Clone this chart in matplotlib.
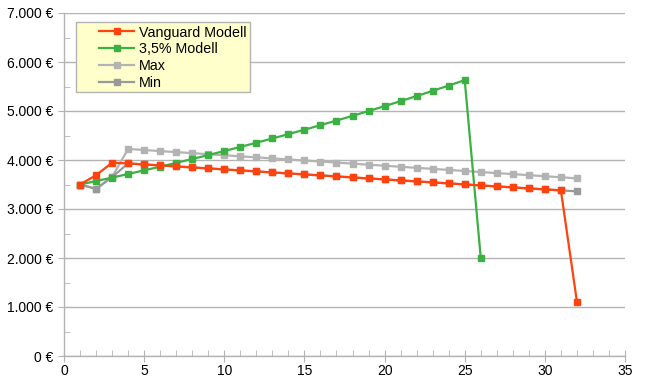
import matplotlib
matplotlib.use("Agg")
import matplotlib.pyplot as plt
from matplotlib.ticker import MultipleLocator, FuncFormatter
from matplotlib.patches import Rectangle

plt.rcParams['font.family'] = ['Liberation Sans', 'DejaVu Sans']

years = list(range(1, 33))
vanguard = [3500, 3690, 3945, 3930, 3910, 3889, 3869, 3848, 3828, 3808, 3787, 3767,
            3746, 3726, 3706, 3685, 3665, 3644, 3624, 3604, 3583, 3563, 3543, 3522,
            3502, 3481, 3461, 3441, 3420, 3400, 3380, 1110]
years_35 = list(range(1, 27))
modell_35 = [3500, 3570, 3641, 3714, 3789, 3864, 3942, 4020, 4101, 4183, 4267, 4352,
             4439, 4528, 4618, 4711, 4805, 4901, 4999, 5099, 5201, 5305, 5411, 5519,
             5630, 2005]
max_vals = [3500, 3410, 3655, 4225, 4204, 4182, 4161, 4140, 4118, 4097, 4075, 4054,
            4033, 4011, 3990, 3968, 3947, 3926, 3904, 3883, 3861, 3840, 3819, 3797,
            3776, 3754, 3733, 3712, 3690, 3669, 3647, 3626]
min_vals = [3500, 3410, 3650, 3930, 3910, 3889, 3869, 3848, 3828, 3808, 3787, 3767,
            3746, 3726, 3706, 3685, 3665, 3644, 3624, 3604, 3583, 3563, 3543, 3522,
            3502, 3481, 3461, 3441, 3420, 3400, 3380, 3360]

W, H = 646, 388
L, R, T, B = 64, 625, 13, 356
fig = plt.figure(figsize=(W/100, H/100), dpi=100)
ax = fig.add_axes([L/W, (H-B)/H, (R-L)/W, (B-T)/H])

c_van = '#ff420e'
c_35 = '#3cb043'
c_max = '#b3b3b3'
c_min = '#999999'

kw = dict(lw=1.6, marker='s', ms=4.5)
l3, = ax.plot(years, max_vals, color=c_max, label='Max', zorder=3, **kw)
l4, = ax.plot(years, min_vals, color=c_min, label='Min', zorder=3.5, **kw)
l2, = ax.plot(years_35, modell_35, color=c_35, label='3,5% Modell', zorder=4, **kw)
l1, = ax.plot(years, vanguard, color=c_van, label='Vanguard Modell', zorder=5, **kw)

ax.set_xlim(0, 35)
ax.set_ylim(0, 7000)
ax.xaxis.set_major_locator(MultipleLocator(5))
ax.xaxis.set_minor_locator(MultipleLocator(1))
ax.yaxis.set_major_locator(MultipleLocator(1000))
ax.yaxis.set_minor_locator(MultipleLocator(500))
ax.yaxis.set_major_formatter(FuncFormatter(lambda v, p: f"{int(v):,} €".replace(',', '.')))

ax.grid(axis='y', which='major', color='#b3b3b3', lw=1)
ax.set_axisbelow(True)
for s in ['top', 'right']:
    ax.spines[s].set_visible(False)
for s in ['left', 'bottom']:
    ax.spines[s].set_color('#b3b3b3')
    ax.spines[s].set_linewidth(1)

ax.tick_params(axis='x', which='major', direction='inout', length=8, color='#b3b3b3', labelsize=10, pad=2)
ax.tick_params(axis='x', which='minor', direction='in', length=4, color='#b3b3b3')
ax.tick_params(axis='y', which='major', direction='out', length=4, color='#b3b3b3', labelsize=10)
ax.tick_params(axis='y', which='minor', direction='in', length=4, color='#b3b3b3')

def ax_x(px):
    return (px - L) / (R - L)

def ax_y(py):
    return (B - py) / (B - T)

box = Rectangle((ax_x(76), ax_y(92)), ax_x(250) - ax_x(76), ax_y(22) - ax_y(92),
                transform=ax.transAxes, facecolor='#ffffcc', edgecolor='#b3b3b3',
                lw=1, zorder=6)
ax.add_patch(box)

leg = ax.legend(handles=[l1, l2, l3, l4], loc='upper left', bbox_to_anchor=(ax_x(99), ax_y(25.5)),
                frameon=False, fontsize=10.3, handlelength=2.45, borderpad=0, labelspacing=0.2,
                handletextpad=0.36, borderaxespad=0)
leg.set_zorder(7)

fig.savefig('out.png', dpi=100)
